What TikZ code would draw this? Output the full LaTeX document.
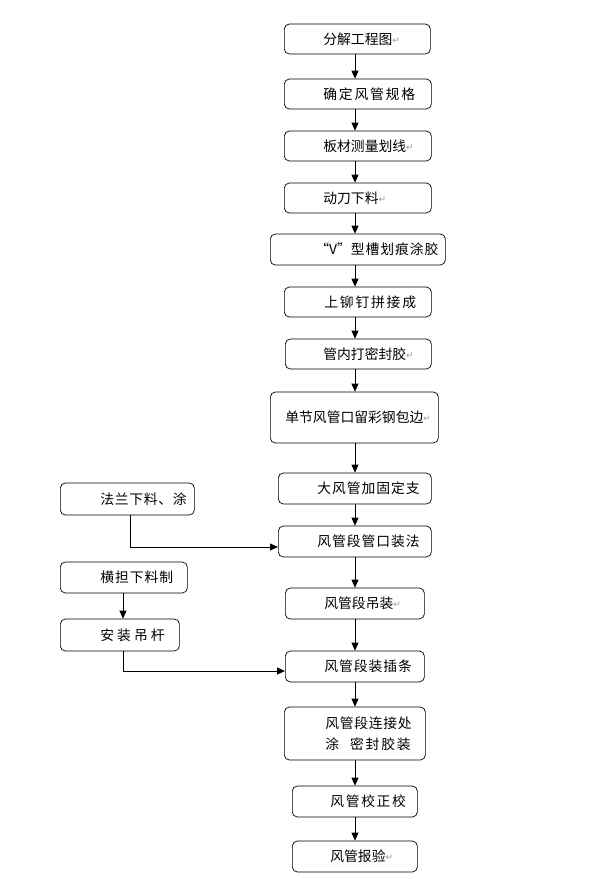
\documentclass[tikz,border=0pt]{standalone}
\usepackage{fontspec}
\setmainfont{Noto Sans CJK SC}
\newfontfamily\symfont{DejaVu Sans}
\usetikzlibrary{arrows.meta}
\newcommand\retmk{{\symfont\color{black!40}\fontsize{9}{9}\selectfont\raisebox{1pt}{↵}}}
\newcommand\spc[1]{\addfontfeature{LetterSpace=#1}}

\begin{document}
\begin{tikzpicture}[x=1pt,y=-1pt,
  stepbox/.style={draw, line width=0.7pt, rounded corners=5pt, anchor=west,
    inner xsep=0pt, inner ysep=0pt, align=left, minimum height=31pt,
    font=\fontsize{13.8}{21}\selectfont},
  flow/.style={-{Triangle[length=8pt,width=7pt]}, line width=0.8pt}]
\useasboundingbox (0,0) rectangle (590,879);
\node[stepbox, text width=146pt, minimum height=30pt] (fenjie) at (284,39) {\hspace*{39pt}分解工程图\retmk};
\node[stepbox, text width=147pt, minimum height=30pt] (guige) at (284,94) {\hspace*{39pt}{\spc{13}确定风管规格}};
\node[stepbox, text width=147pt, minimum height=30pt] (huaxian) at (284,146) {\hspace*{39pt}板材测量划线\retmk};
\node[stepbox, text width=147pt, minimum height=30pt] (xialiao) at (284,198) {\hspace*{39pt}动刀下料\retmk};
\node[stepbox, text width=175pt] (vcao) at (270,249.5) {\hspace*{45pt}“V”{\spc{7}型槽划痕涂胶}};
\node[stepbox, text width=147pt, minimum height=30pt] (maoding) at (284,302) {\hspace*{40pt}{\spc{13}上铆钉拼接成}};
\node[stepbox, text width=146pt, minimum height=30pt] (mifeng) at (285,354) {\hspace*{38pt}管内打密封胶\retmk};
\node[stepbox, text width=168pt, minimum height=51pt] (baobian) at (270,417.5) {\hspace*{15pt}单节风管口留彩钢包边\retmk};
\node[stepbox, text width=153pt] (jiagu) at (278,488.5) {\hspace*{39pt}{\spc{7}大风管加固定支}};
\node[stepbox, text width=153pt] (falan) at (278,541.5) {\hspace*{39pt}{\spc{7}风管段管口装法}};
\node[stepbox, text width=139pt] (diaozhuang) at (285,603.5) {\hspace*{39pt}风管段吊装\retmk};
\node[stepbox, text width=139pt] (chatiao) at (285,666.5) {\hspace*{39pt}{\spc{7}风管段装插条}};
\node[stepbox, text width=141pt, minimum height=53pt] (lianjie) at (284,733.5) {\hspace*{41pt}{\spc{5}风管段连接处}\\\hspace*{41pt}涂\hspace{11pt}{\spc{13}密封胶装}};
\node[stepbox, text width=125pt] (jiaozheng) at (292,801.5) {\hspace*{38pt}{\spc{12}风管校正校}};
\node[stepbox, text width=125pt] (baoyan) at (292,856.5) {\hspace*{38pt}风管报验\retmk};
\node[stepbox, text width=134pt, minimum height=32pt] (falanxl) at (60,499) {\hspace*{40pt}{\spc{5}法兰下料、涂}};
\node[stepbox, text width=127pt] (hengdan) at (60,577.5) {\hspace*{40pt}{\spc{7}横担下料制}};
\node[stepbox, text width=119pt, minimum height=32pt] (diaogan) at (60,635) {\hspace*{40pt}{\spc{22}安装吊杆}};
\coordinate (mx) at (355,0);
\coordinate (lx1) at (130,0);
\coordinate (lx2) at (123,0);
\draw[flow] (fenjie.south -| mx) -- (guige.north -| mx);
\draw[flow] (guige.south -| mx) -- (huaxian.north -| mx);
\draw[flow] (huaxian.south -| mx) -- (xialiao.north -| mx);
\draw[flow] (xialiao.south -| mx) -- (vcao.north -| mx);
\draw[flow] (vcao.south -| mx) -- (maoding.north -| mx);
\draw[flow] (maoding.south -| mx) -- (mifeng.north -| mx);
\draw[flow] (mifeng.south -| mx) -- (baobian.north -| mx);
\draw[flow] (baobian.south -| mx) -- (jiagu.north -| mx);
\draw[flow] (jiagu.south -| mx) -- (falan.north -| mx);
\draw[flow] (falan.south -| mx) -- (diaozhuang.north -| mx);
\draw[flow] (diaozhuang.south -| mx) -- (chatiao.north -| mx);
\draw[flow] (chatiao.south -| mx) -- (lianjie.north -| mx);
\draw[flow] (lianjie.south -| mx) -- (jiaozheng.north -| mx);
\draw[flow] (jiaozheng.south -| mx) -- (baoyan.north -| mx);
\draw[flow] (falanxl.south -| lx1) |- ([yshift=-5.5pt]falan.west);
\draw[flow] (hengdan.south -| lx2) -- (diaogan.north -| lx2);
\draw[flow] (diaogan.south -| lx2) |- ([yshift=-4.5pt]chatiao.west);
\end{tikzpicture}
\end{document}
